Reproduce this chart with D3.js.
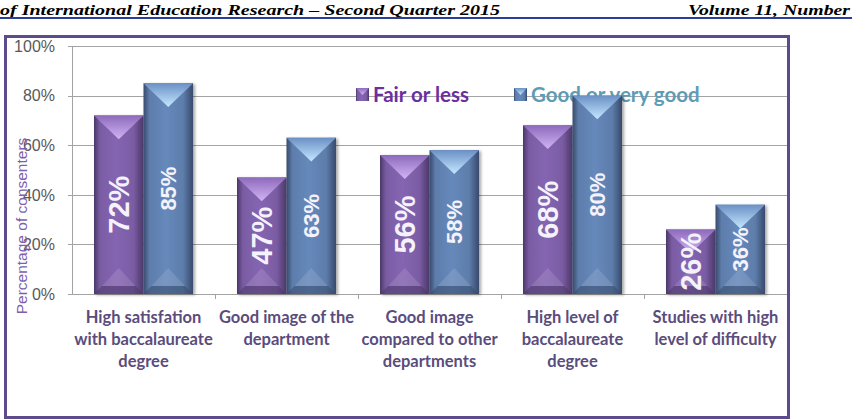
<!DOCTYPE html>
<html>
<head>
<meta charset="utf-8">
<script src="https://cdn.jsdelivr.net/npm/d3@7"></script>
<style>
  body { margin: 0; background: #fff; }
  svg { display: block; }
</style>
</head>
<body>
<svg id="chart" width="852" height="420"></svg>
<script>
// values
var categories = [
    "High satisfation\nwith baccalaureate\ndegree",
    "Good image of the\ndepartment",
    "Good image\ncompared to other\ndepartments",
    "High level of\nbaccalaureate\ndegree",
    "Studies with high\nlevel of difficulty"
];
var seriesNames = ["Fair or less", "Good or very good"];
var fairOrLess = [0.72, 0.47, 0.56, 0.68, 0.26];
var goodOrVeryGood = [0.85, 0.63, 0.58, 0.80, 0.36];
var yTicks = [0, 0.2, 0.4, 0.6, 0.8, 1.0];
var yTickLabels = ["0%", "20%", "40%", "60%", "80%", "100%"];

var palette = {
    "Fair or less": { base: "#7a5ca3", dark: "#4a3868", light: "#d2b4f4", text: "#6b2f9f", label: 29 },
    "Good or very good": { base: "#5d7dab", dark: "#384a6c", light: "#c4e8ff", text: "#5e9cb6", label: 22 }
};

const svg = d3.select("#chart");
const defs = svg.append("defs");

// header strip from the journal page
svg.append("text")
    .attr("x", 0).attr("y", 14.5)
    .attr("textLength", 500).attr("lengthAdjust", "spacingAndGlyphs")
    .style("font", "italic bold 15.5px 'Liberation Serif', 'Times New Roman', serif")
    .attr("fill", "#000")
    .text("of International Education Research \u2013 Second Quarter 2015");
svg.append("text")
    .attr("x", 688).attr("y", 14.5)
    .attr("textLength", 162).attr("lengthAdjust", "spacingAndGlyphs")
    .style("font", "italic bold 15.5px 'Liberation Serif', 'Times New Roman', serif")
    .attr("fill", "#000")
    .text("Volume 11, Number");
svg.append("line")
    .attr("x1", 0).attr("x2", 852).attr("y1", 18).attr("y2", 18)
    .attr("stroke", "#2c3c9c").attr("stroke-width", 2);

// chart frame
svg.append("rect")
    .attr("x", 5.5).attr("y", 36.5).attr("width", 783).attr("height", 381)
    .attr("fill", "#fff").attr("stroke", "#5e4b8b").attr("stroke-width", 3);

const x0 = d3.scaleBand().domain(d3.range(categories.length)).range([72, 787]);
const x1 = d3.scaleBand().domain(seriesNames).range([22, x0.bandwidth() - 22]);
const y = d3.scaleLinear().domain([0, 1]).range([294, 46]);

// gradients for each series
seriesNames.forEach(function(name, i) {
    const c = palette[name];
    const side = defs.append("linearGradient").attr("id", "side" + i)
        .attr("x1", 0).attr("x2", 1).attr("y1", 0).attr("y2", 0);
    side.append("stop").attr("offset", "0").attr("stop-color", c.dark);
    side.append("stop").attr("offset", "0.12").attr("stop-color", c.base);
    side.append("stop").attr("offset", "0.45").attr("stop-color", d3.color(c.base).brighter(0.25));
    side.append("stop").attr("offset", "0.8").attr("stop-color", c.base);
    side.append("stop").attr("offset", "1").attr("stop-color", c.dark);

    const top = defs.append("linearGradient").attr("id", "top" + i)
        .attr("x1", 0).attr("x2", 0).attr("y1", 0).attr("y2", 1);
    top.append("stop").attr("offset", "0").attr("stop-color", d3.color(c.base).brighter(0.4));
    top.append("stop").attr("offset", "1").attr("stop-color", c.light);
});

const shadow = defs.append("filter").attr("id", "shadow")
    .attr("x", "-20%").attr("y", "-10%").attr("width", "140%").attr("height", "120%");
shadow.append("feDropShadow").attr("dx", 2).attr("dy", 1).attr("stdDeviation", 1.5)
    .attr("flood-color", "#000").attr("flood-opacity", 0.35);

// gridlines and axes
const gridG = svg.append("g");
gridG.selectAll("line")
    .data(yTicks)
    .enter().append("line")
    .attr("x1", 68).attr("x2", 787)
    .attr("y1", d => Math.round(y(d)) + 0.5).attr("y2", d => Math.round(y(d)) + 0.5)
    .attr("stroke", "#a3a3a3").attr("stroke-width", 1);

gridG.append("line")
    .attr("x1", 72.5).attr("x2", 72.5).attr("y1", y(1)).attr("y2", y(0))
    .attr("stroke", "#a3a3a3");

gridG.selectAll(".xtick")
    .data(d3.range(1, categories.length))
    .enter().append("line")
    .attr("class", "xtick")
    .attr("x1", d => Math.round(x0(d)) + 0.5).attr("x2", d => Math.round(x0(d)) + 0.5)
    .attr("y1", y(0)).attr("y2", y(0) + 5)
    .attr("stroke", "#a3a3a3");

svg.append("g").selectAll("text")
    .data(yTicks)
    .enter().append("text")
    .attr("x", 55).attr("y", d => y(d))
    .attr("dy", "0.36em")
    .attr("text-anchor", "end")
    .style("font", "16px 'Liberation Sans', Arial, sans-serif")
    .attr("fill", "#595959")
    .text((d, i) => yTickLabels[i]);

// legend sits behind the bars, over the gridline
const legendX = [356, 514];
const legend = svg.append("g");
seriesNames.forEach(function(name, i) {
    const g = legend.append("g").attr("transform", "translate(" + legendX[i] + ",88)");
    g.append("rect").attr("width", 13).attr("height", 13).attr("fill", "url(#side" + i + ")");
    g.append("path").attr("d", "M0,0H13L6.5,7Z").attr("fill", "url(#top" + i + ")");
    g.append("text")
        .attr("x", 17).attr("y", 13.5)
        .style("font", "bold 20.5px Lato, 'Open Sans', sans-serif")
        .attr("fill", palette[name].text)
        .text(name);
});

// bars
const seriesData = [fairOrLess, goodOrVeryGood];
const barsG = svg.append("g");
seriesNames.forEach(function(name, si) {
    const w = x1.bandwidth();
    const bars = barsG.selectAll(".bar" + si)
        .data(seriesData[si])
        .enter().append("g")
        .attr("class", "bar" + si)
        .attr("transform", (d, i) => "translate(" + (x0(i) + x1(name)) + ",0)");

    bars.append("rect")
        .attr("x", 0).attr("y", d => y(d))
        .attr("width", w).attr("height", d => y(0) - y(d))
        .attr("fill", "url(#side" + si + ")")
        .attr("filter", "url(#shadow)");

    // lighter chevron at the top
    bars.append("path")
        .attr("d", d => "M0," + y(d) + "H" + w + "L" + (w / 2) + "," + (y(d) + w * 0.48) + "Z")
        .attr("fill", "url(#top" + si + ")");

    // bevel at the bottom
    bars.append("path")
        .attr("d", "M0," + y(0) + "H" + w + "L" + (w - 8) + "," + (y(0) - 8) + "H8Z")
        .attr("fill", palette[name].dark).attr("opacity", 0.55);
    bars.append("path")
        .attr("d", "M8," + (y(0) - 8) + "H" + (w - 8) + "L" + (w / 2) + "," + (y(0) - 26) + "Z")
        .attr("fill", "#fff").attr("opacity", 0.12);

    bars.append("text")
        .attr("transform", d => "translate(" + (w / 2) + "," + ((y(d) + y(0)) / 2) + ") rotate(-90)")
        .attr("text-anchor", "middle")
        .attr("dy", "0.36em")
        .style("font", "bold " + palette[name].label + "px 'Liberation Sans', Arial, sans-serif")
        .attr("fill", "#f4f2fa")
        .text(d => Math.round(d * 100) + "%");
});

// category labels
const catG = svg.append("g");
categories.forEach(function(c, i) {
    const t = catG.append("text")
        .attr("x", x0(i) + x0.bandwidth() / 2)
        .attr("y", 323)
        .attr("text-anchor", "middle")
        .style("font", "bold 16.5px Lato, 'Open Sans', sans-serif")
        .attr("fill", "#5a4c7c");
    c.split("\n").forEach(function(line, j) {
        t.append("tspan").attr("x", x0(i) + x0.bandwidth() / 2).attr("dy", j ? 22 : 0).text(line);
    });
});

// y axis title
svg.append("text")
    .attr("transform", "translate(27,226) rotate(-90)")
    .attr("text-anchor", "middle")
    .style("font", "15.5px 'Liberation Sans', Arial, sans-serif")
    .attr("fill", "#7e5fae")
    .text("Percentage of consenters");
</script>
</body>
</html>
